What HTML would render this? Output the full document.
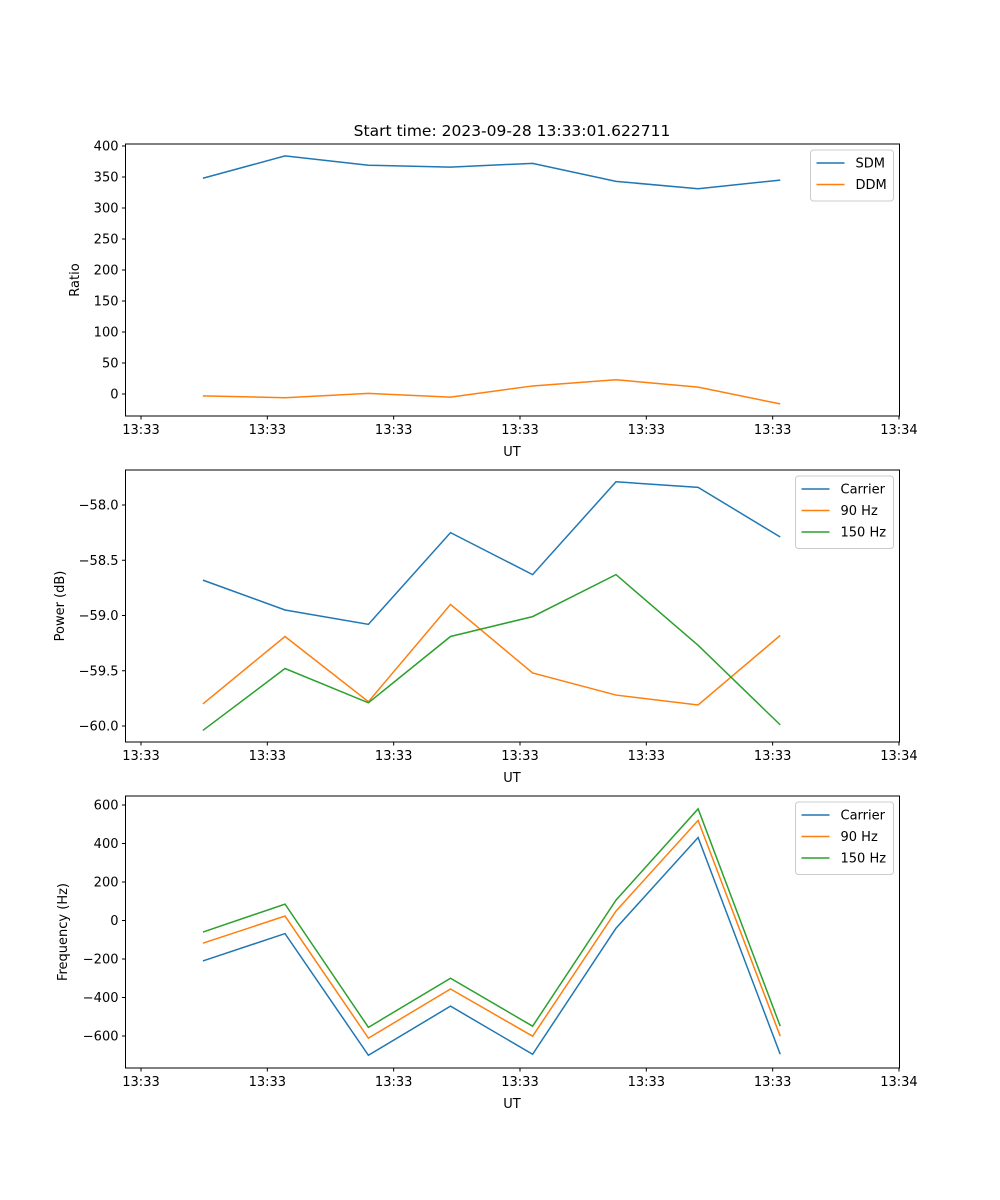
<!DOCTYPE html>
<html><head><meta charset="utf-8"><style>
body{margin:0;background:#fff}
svg{display:block;font-family:"DejaVu Sans","Liberation Sans",sans-serif}
</style></head><body>
<svg id="fig" width="1000" height="1200" xmlns="http://www.w3.org/2000/svg">
<rect width="1000" height="1200" fill="#fff"/>
<text x="512" y="136" font-size="15.5" text-anchor="middle">Start time: 2023-09-28 13:33:01.622711</text>
</svg>
<script>
const times=[4.9,11.4,18.0,24.5,31.0,37.6,44.1,50.6];
const xTickVals=[0,10,20,30,40,50,60];
const xTickLabels=["13:33","13:33","13:33","13:33","13:33","13:33","13:34"];
const sdm=[348,384,369,366,372,343,331,345];
const ddm=[-3,-6,1,-5,13,23,11,-16];
const powCarrier=[-58.68,-58.95,-59.08,-58.25,-58.63,-57.79,-57.84,-58.29];
const pow90=[-59.80,-59.19,-59.78,-58.90,-59.52,-59.72,-59.81,-59.18];
const pow150=[-60.04,-59.48,-59.79,-59.19,-59.01,-58.63,-59.27,-59.99];
const frqCarrier=[-210,-68,-700,-445,-695,-40,431,-695];
const frq90=[-118,23,-611,-356,-601,49,520,-601];
const frq150=[-60,85,-555,-300,-549,106,580,-549];
const ticks1=[0,50,100,150,200,250,300,350,400];
const ticks2=[-60,-59.5,-59,-58.5,-58];
const ticks3=[-600,-400,-200,0,200,400,600];

const NS="http://www.w3.org/2000/svg";
const svg=document.getElementById('fig');
function mk(tag,attrs,parent){const e=document.createElementNS(NS,tag);for(const k in attrs)e.setAttribute(k,attrs[k]);(parent||svg).appendChild(e);return e;}
const L=125.5,R=899.5;
function xs(t){return 141+t*12.633;}
const C=['#1f77b4','#ff7f0e','#2ca02c'];

function panel(id,top,bot,yA,yB,vA,vB,ticks,fmt,ylabel,ylx,series,names,legW){
  const g=mk('g',{});
  
  
  const ys=v=>yA+(v-vA)*(yB-yA)/(vB-vA);
  series.forEach((s,i)=>{
    const p=mk('polyline',{points:s.map((v,j)=>xs(times[j])+','+ys(v)).join(' '),fill:'none',stroke:C[i],'stroke-width':1.5},g);
    
    
  });
  mk('rect',{x:L,y:top,width:R-L,height:bot-top,fill:'none',stroke:'#000','stroke-width':1},g);
  ticks.forEach(v=>{
    const y=ys(v);
    mk('line',{x1:L-3.5,x2:L,y1:y,y2:y,stroke:'#000'},g);
    const t=mk('text',{x:L-7,y:y+4.5,'font-size':13,'text-anchor':'end'},g);
    t.textContent=fmt(v);
    
    
  });
  xTickVals.forEach((v,i)=>{
    const x=xs(v);
    mk('line',{x1:x,x2:x,y1:bot,y2:bot+3.5,stroke:'#000'},g);
    const t=mk('text',{x:x,y:bot+18,'font-size':13,'text-anchor':'middle'},g);
    t.textContent=xTickLabels[i];
    
    
  });
  const xl=mk('text',{x:512,y:bot+40,'font-size':13,'text-anchor':'middle'},g);
  xl.textContent='UT';
  
  
  const cy=(top+bot)/2;
  const yl=mk('text',{x:ylx,y:cy,'font-size':13,'text-anchor':'middle',transform:'rotate(-90 '+ylx+' '+cy+')'},g);
  yl.textContent=ylabel;
  
  
  const lx=R-6-legW, ly=top+6, lh=8+names.length*21.5;
  const lg=mk('g',{},g);
  
  
  mk('rect',{x:lx,y:ly,width:legW,height:lh,rx:3,fill:'#fff','fill-opacity':0.8,stroke:'#ccc'},lg);
  names.forEach((n,i)=>{
    const yy=ly+13+i*21.5;
    mk('line',{x1:lx+6,x2:lx+34,y1:yy,y2:yy,stroke:C[i],'stroke-width':1.5},lg);
    const t=mk('text',{x:lx+45,y:yy+4.5,'font-size':13},lg);
    t.textContent=n;
    
    
  });
}
const minus=s=>s.replace('-','\u2212');
panel('ratio-panel',144,416,394,146,0,400,ticks1,v=>minus(String(v)),'Ratio',79,[sdm,ddm],['SDM','DDM'],83);
panel('power-panel',470,742,726,505,-60,-58,ticks2,v=>minus(v.toFixed(1)),'Power (dB)',64,[powCarrier,pow90,pow150],['Carrier','90 Hz','150 Hz'],98);
panel('frequency-panel',796,1068,1036,805,-600,600,ticks3,v=>minus(String(v)),'Frequency (Hz)',67,[frqCarrier,frq90,frq150],['Carrier','90 Hz','150 Hz'],98);
</script>
</body></html>
